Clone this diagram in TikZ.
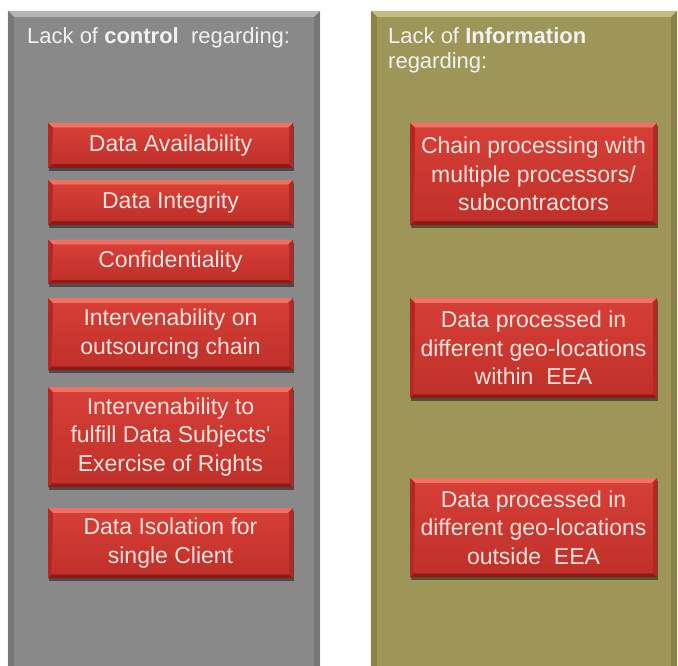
\documentclass[tikz,border=0pt]{standalone}
\usepackage{fontspec}
\setmainfont{Liberation Sans}
\usetikzlibrary{shadows}
\definecolor{panelgray}{HTML}{898989}
\definecolor{graylight}{HTML}{B4B4B4}
\definecolor{graydark}{HTML}{6E6E6E}
\definecolor{panelolive}{HTML}{9E9558}
\definecolor{olivelight}{HTML}{C4BC80}
\definecolor{olivedark}{HTML}{7E7540}
\definecolor{redmid}{HTML}{D2362F}
\definecolor{redtop}{HTML}{F07262}
\definecolor{redbot}{HTML}{8E1A18}
\definecolor{redside}{HTML}{B52723}
\definecolor{boxtext}{HTML}{F6E4DE}
\definecolor{titletext}{HTML}{F2F2F2}
\tikzset{
  bevelpanel/.style 2 args={fill=#1, path picture={
      \fill[#2] (path picture bounding box.north west) -- (path picture bounding box.north east)
        -- ([xshift=-6pt,yshift=-6pt]path picture bounding box.north east)
        -- ([xshift=6pt,yshift=-6pt]path picture bounding box.north west) -- cycle;
    }},
  redbox/.style={fill=redmid, text=boxtext, align=center, inner sep=0pt,
    font=\fontsize{23pt}{28.5pt}\selectfont,
    drop shadow={shadow xshift=1pt, shadow yshift=-3pt, opacity=0.45, fill=black},
    path picture={
      \fill[redtop] (path picture bounding box.north west) -- (path picture bounding box.north east)
        -- ([xshift=-5pt,yshift=-5pt]path picture bounding box.north east)
        -- ([xshift=5pt,yshift=-5pt]path picture bounding box.north west) -- cycle;
      \fill[redbot] (path picture bounding box.south west) -- (path picture bounding box.south east)
        -- ([xshift=-4pt,yshift=4pt]path picture bounding box.south east)
        -- ([xshift=4pt,yshift=4pt]path picture bounding box.south west) -- cycle;
      \fill[redside] (path picture bounding box.north west) -- ([xshift=5pt,yshift=-5pt]path picture bounding box.north west)
        -- ([xshift=4pt,yshift=4pt]path picture bounding box.south west) -- (path picture bounding box.south west) -- cycle;
      \fill[redside] (path picture bounding box.north east) -- ([xshift=-5pt,yshift=-5pt]path picture bounding box.north east)
        -- ([xshift=-4pt,yshift=4pt]path picture bounding box.south east) -- (path picture bounding box.south east) -- cycle;
      \fill[redmid] ([xshift=5pt,yshift=-5pt]path picture bounding box.north west) rectangle ([xshift=-4pt,yshift=4pt]path picture bounding box.south east);
      \shade[top color=redmid!75!redtop, bottom color=redmid!85!black, opacity=0.6]
        ([xshift=5pt,yshift=-5pt]path picture bounding box.north west) rectangle ([xshift=-4pt,yshift=4pt]path picture bounding box.south east);
    }},
  paneltitle/.style={text=titletext, anchor=north west, align=left, inner sep=0pt,
    font=\fontsize{22pt}{25pt}\selectfont}
}
\begin{document}
\begin{tikzpicture}[x=1pt,y=-1pt]
  \useasboundingbox[fill=white] (0,0) rectangle (678,666);

  % grey panel: lack of control
  \node[bevelpanel={panelgray}{graylight}, minimum width=312pt, minimum height=655pt, inner sep=0pt]
    (ctrl) at (164,338.5) {};
  \fill[graydark, opacity=0.6] (ctrl.north west) -- ([xshift=6pt,yshift=-6pt]ctrl.north west)
    -- ([xshift=6pt]ctrl.south west) -- (ctrl.south west) -- cycle;
  \fill[graydark, opacity=0.6] (ctrl.north east) -- ([xshift=-6pt,yshift=-6pt]ctrl.north east)
    -- ([xshift=-6pt]ctrl.south east) -- (ctrl.south east) -- cycle;

  % olive panel: lack of information
  \node[bevelpanel={panelolive}{olivelight}, minimum width=306pt, minimum height=655pt, inner sep=0pt]
    (info) at (524,338.5) {};
  \fill[olivedark, opacity=0.6] (info.north west) -- ([xshift=6pt,yshift=-6pt]info.north west)
    -- ([xshift=6pt]info.south west) -- (info.south west) -- cycle;
  \fill[olivedark, opacity=0.6] (info.north east) -- ([xshift=-6pt,yshift=-6pt]info.north east)
    -- ([xshift=-6pt]info.south east) -- (info.south east) -- cycle;

  % panel headings
  \node[paneltitle] (ctrltitle) at (27,27) {Lack of \textbf{control}\ \ regarding:};
  \node[paneltitle] (infotitle) at (388,27) {Lack of \textbf{Information}\\regarding:};

  % control items
  \node[redbox, minimum width=245pt, minimum height=45pt] (avail) at (170.5,145.5) {Data Availability};
  \node[redbox, minimum width=245pt, minimum height=45pt] (integ) at (170.5,202.5) {Data Integrity};
  \node[redbox, minimum width=245pt, minimum height=44pt] (conf) at (170.5,261.5) {Confidentiality};
  \node[redbox, minimum width=245pt, minimum height=72pt] (outs) at (170.5,334) {Intervenability on\\outsourcing chain};
  \node[redbox, minimum width=245pt, minimum height=100pt] (rights) at (170.5,437) {Intervenability to\\fulfill Data Subjects\textquotesingle\\Exercise of Rights};
  \node[redbox, minimum width=245pt, minimum height=70pt] (isol) at (170.5,543) {Data Isolation for\\single Client};

  % information items
  \node[redbox, minimum width=247pt, minimum height=102pt] (chain) at (533.5,174) {Chain processing with\\multiple processors/\\subcontractors};
  \node[redbox, minimum width=247pt, minimum height=100pt] (within) at (533.5,348) {Data processed in\\different geo-locations\\within\ \ EEA};
  \node[redbox, minimum width=247pt, minimum height=99pt] (outside) at (533.5,527.5) {Data processed in\\different geo-locations\\outside\ \ EEA};
\end{tikzpicture}
\end{document}
